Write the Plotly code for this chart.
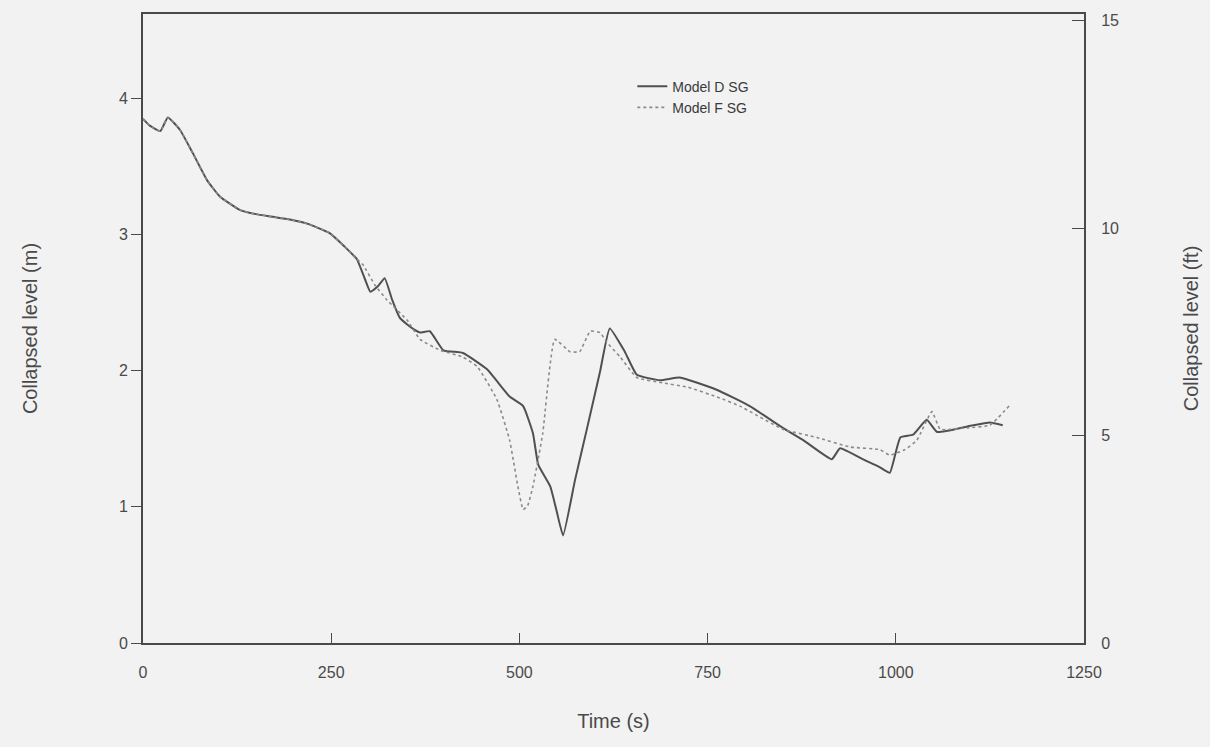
import plotly.graph_objects as go

# Model D SG (solid)
d_time = [0, 9, 23, 33, 49, 66, 85, 102, 129, 150, 173, 195, 218, 248, 268, 284, 295, 302, 312, 321,
          331, 341, 351, 361, 368, 381, 399, 425, 457, 487, 505, 518, 525, 541, 549, 558, 574, 590,
          607, 620, 640, 656, 687, 713, 762, 806, 850, 877, 915, 926, 956, 979, 992, 1006, 1023,
          1041, 1055, 1095, 1125, 1142]
d_level = [3.85, 3.80, 3.76, 3.86, 3.77, 3.60, 3.40, 3.28, 3.18, 3.15, 3.13, 3.11, 3.08, 3.01, 2.91,
           2.82, 2.67, 2.58, 2.62, 2.68, 2.52, 2.39, 2.34, 2.30, 2.28, 2.29, 2.15, 2.13, 2.01, 1.81,
           1.74, 1.54, 1.31, 1.15, 0.98, 0.79, 1.20, 1.58, 1.99, 2.31, 2.14, 1.97, 1.93, 1.95, 1.86,
           1.74, 1.58, 1.49, 1.35, 1.43, 1.35, 1.29, 1.25, 1.51, 1.53, 1.64, 1.55, 1.59, 1.62, 1.60]

# Model F SG (dotted)
f_time = [0, 9, 23, 33, 49, 66, 85, 102, 129, 150, 173, 195, 218, 248, 268, 284, 292, 308, 324, 351,
          368, 395, 425, 444, 470, 487, 498, 505, 511, 518, 531, 547, 567, 580, 594, 607, 616, 634,
          656, 691, 723, 766, 793, 850, 895, 939, 979, 992, 1012, 1028, 1048, 1059, 1095, 1125, 1152]
f_level = [3.85, 3.80, 3.76, 3.86, 3.77, 3.60, 3.40, 3.28, 3.18, 3.15, 3.13, 3.11, 3.08, 3.01, 2.91,
           2.82, 2.78, 2.63, 2.52, 2.37, 2.23, 2.15, 2.10, 2.03, 1.79, 1.49, 1.15, 0.98, 1.01, 1.15,
           1.54, 2.23, 2.14, 2.14, 2.29, 2.28, 2.21, 2.10, 1.95, 1.91, 1.88, 1.80, 1.74, 1.57, 1.51,
           1.44, 1.42, 1.38, 1.42, 1.49, 1.70, 1.57, 1.58, 1.60, 1.75]

x_ticks = [0, 250, 500, 750, 1000, 1250]
y_ticks_m = [0, 1, 2, 3, 4]
y_ticks_ft = [0, 5, 10, 15]

M_TOP = 4.62
FT_PER_M = 1 / 0.3048

ink = "#4a4a4a"
bg = "#f2f2f2"
font_family = "Liberation Sans, Arial, sans-serif"

fig = go.Figure()
fig.add_trace(go.Scatter(x=d_time, y=d_level, mode="lines", name="Model D SG",
                         line=dict(color="#505050", width=2, shape="spline", smoothing=0.4)))
fig.add_trace(go.Scatter(x=f_time, y=f_level, mode="lines", name="Model F SG",
                         line=dict(color="#8a8a8a", width=1.6, dash="dot", shape="spline",
                                   smoothing=0.4)))
# invisible trace to anchor the right (ft) axis
fig.add_trace(go.Scatter(x=d_time, y=[v * FT_PER_M for v in d_level], yaxis="y2",
                         mode="lines", line=dict(width=0, color="rgba(0,0,0,0)"),
                         showlegend=False, hoverinfo="skip"))

fig.update_layout(
    width=1210, height=747,
    margin=dict(l=143, r=126, t=14, b=104),
    paper_bgcolor=bg, plot_bgcolor=bg,
    font=dict(family=font_family, color=ink, size=16),
    showlegend=True,
    legend=dict(x=0.52, y=0.91, xanchor="left", yanchor="top",
                bgcolor="rgba(0,0,0,0)", font=dict(size=14, color="#3a3a3a"),
                tracegroupgap=0),
    xaxis=dict(range=[0, 1250], tickvals=x_ticks, ticks="inside", ticklen=10,
               tickcolor=ink, showline=True, linecolor=ink, linewidth=2, mirror=True,
               showgrid=False, zeroline=False, ticklabelstandoff=14,
               title=dict(text="Time (s)", font=dict(size=20), standoff=34),
               tickfont=dict(size=16)),
    yaxis=dict(range=[0, M_TOP], tickvals=y_ticks_m, ticks="outside", ticklen=10,
               tickcolor=ink, showline=True, linecolor=ink, linewidth=2,
               showgrid=False, zeroline=False,
               title=dict(text="Collapsed level (m)", font=dict(size=20), standoff=76),
               tickfont=dict(size=16)),
    yaxis2=dict(range=[0, M_TOP * FT_PER_M], tickvals=y_ticks_ft, ticks="inside", ticklen=12,
                tickcolor=ink, overlaying="y", side="right", showline=True, linecolor=ink,
                linewidth=2, showgrid=False, zeroline=False, ticklabelstandoff=12,
                title=dict(text="Collapsed level (ft)", font=dict(size=20), standoff=66),
                tickfont=dict(size=16)),
)

fig.write_html("out.html")
